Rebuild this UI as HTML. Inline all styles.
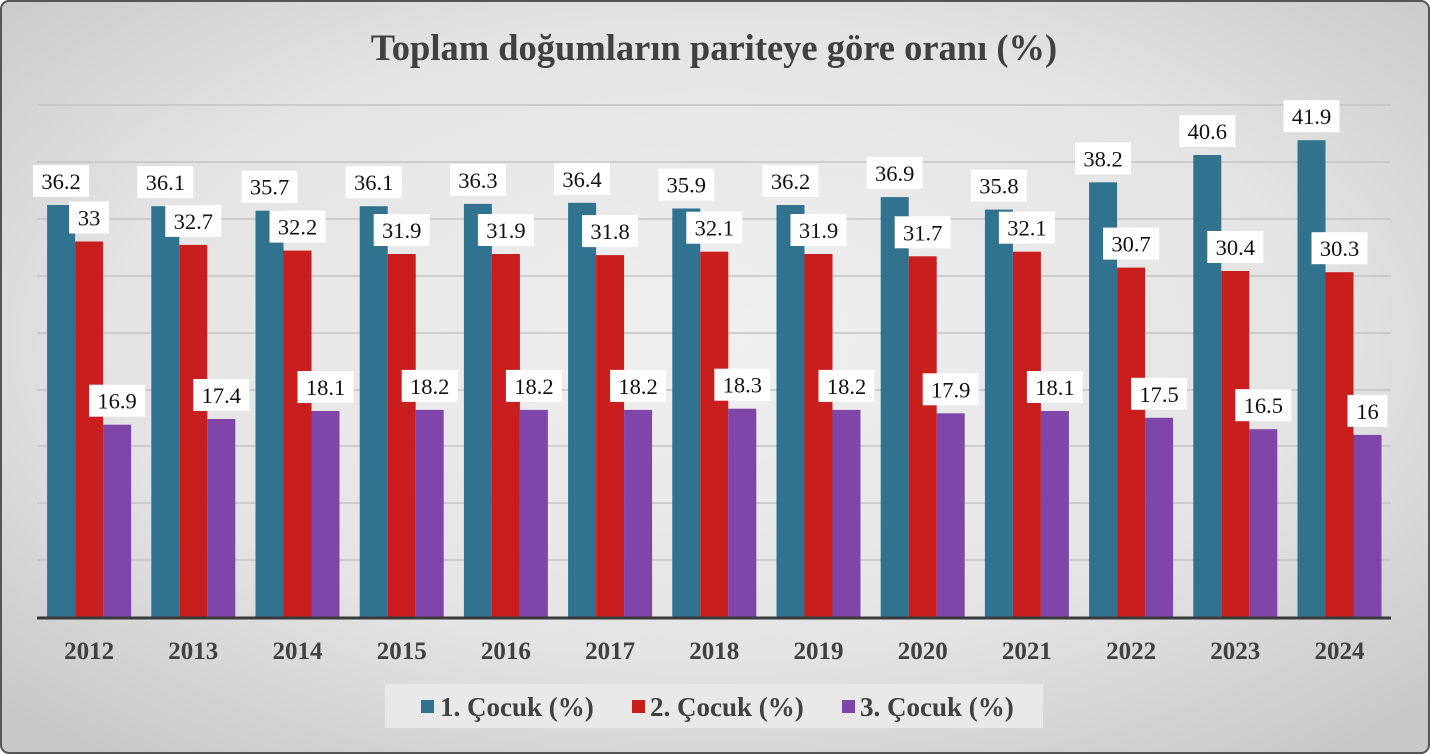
<!DOCTYPE html>
<html><head><meta charset="utf-8"><style>
html,body{margin:0;padding:0;width:1430px;height:754px;overflow:hidden;background:#fff}
svg{display:block}
.l rect{fill:#fff}
.l text{font-family:"Liberation Serif",serif;font-size:22.5px;fill:#111;text-anchor:middle}
.yr{font-family:"Liberation Serif",serif;font-weight:bold;font-size:25px;fill:#404040;text-anchor:middle}
</style></head><body>
<svg width="1430" height="754" viewBox="0 0 1430 754">
<defs>
<radialGradient id="bg" cx="50%" cy="45%" r="70%">
<stop offset="0" stop-color="#f0f0f0"/><stop offset="0.6" stop-color="#e4e4e4"/><stop offset="1" stop-color="#c8c8c8"/>
</radialGradient>
</defs>
<rect x="1" y="1" width="1428" height="752" rx="8" fill="url(#bg)" stroke="#555" stroke-width="2"/>
<text x="714" y="60" text-anchor="middle" font-family="Liberation Serif,serif" font-weight="bold" font-size="36.5" fill="#404040">Toplam doğumların pariteye göre oranı (%)</text>
<g stroke="#c4c4c4" stroke-width="1.5">
<line x1="37" x2="1391" y1="105" y2="105"/><line x1="37" x2="1391" y1="162" y2="162"/><line x1="37" x2="1391" y1="219" y2="219"/><line x1="37" x2="1391" y1="276" y2="276"/><line x1="37" x2="1391" y1="333" y2="333"/><line x1="37" x2="1391" y1="390" y2="390"/><line x1="37" x2="1391" y1="446" y2="446"/><line x1="37" x2="1391" y1="503" y2="503"/><line x1="37" x2="1391" y1="560" y2="560"/>
</g>

<g transform="translate(89.1,617)"><rect x="-42" y="-412" width="28" height="412" fill="#31728f"/><rect x="-14" y="-375.5" width="28" height="375.5" fill="#c81e1e"/><rect x="14" y="-192.3" width="28" height="192.3" fill="#7f45a8"/>
<g class="l"><rect x="-56" y="-452" width="56" height="32"/><text x="-28" y="-428">36.2</text><rect x="-20" y="-415.5" width="40" height="32"/><text x="0" y="-391.5">33</text><rect x="0" y="-232.3" width="56" height="32"/><text x="28" y="-208.3">16.9</text></g></g>

<g transform="translate(193.3,617)"><rect x="-42" y="-410.8" width="28" height="410.8" fill="#31728f"/><rect x="-14" y="-372.1" width="28" height="372.1" fill="#c81e1e"/><rect x="14" y="-198" width="28" height="198" fill="#7f45a8"/>
<g class="l"><rect x="-56" y="-450.8" width="56" height="32"/><text x="-28" y="-426.8">36.1</text><rect x="-28" y="-412.1" width="56" height="32"/><text x="0" y="-388.1">32.7</text><rect x="0" y="-238" width="56" height="32"/><text x="28" y="-214">17.4</text></g></g>

<g transform="translate(297.5,617)"><rect x="-42" y="-406.3" width="28" height="406.3" fill="#31728f"/><rect x="-14" y="-366.4" width="28" height="366.4" fill="#c81e1e"/><rect x="14" y="-206" width="28" height="206" fill="#7f45a8"/>
<g class="l"><rect x="-56" y="-446.3" width="56" height="32"/><text x="-28" y="-422.3">35.7</text><rect x="-28" y="-406.4" width="56" height="32"/><text x="0" y="-382.4">32.2</text><rect x="0" y="-246" width="56" height="32"/><text x="28" y="-222">18.1</text></g></g>

<g transform="translate(401.7,617)"><rect x="-42" y="-410.8" width="28" height="410.8" fill="#31728f"/><rect x="-14" y="-363" width="28" height="363" fill="#c81e1e"/><rect x="14" y="-207.1" width="28" height="207.1" fill="#7f45a8"/>
<g class="l"><rect x="-56" y="-450.8" width="56" height="32"/><text x="-28" y="-426.8">36.1</text><rect x="-28" y="-403" width="56" height="32"/><text x="0" y="-379">31.9</text><rect x="0" y="-247.1" width="56" height="32"/><text x="28" y="-223.1">18.2</text></g></g>

<g transform="translate(505.9,617)"><rect x="-42" y="-413.1" width="28" height="413.1" fill="#31728f"/><rect x="-14" y="-363" width="28" height="363" fill="#c81e1e"/><rect x="14" y="-207.1" width="28" height="207.1" fill="#7f45a8"/>
<g class="l"><rect x="-56" y="-453.1" width="56" height="32"/><text x="-28" y="-429.1">36.3</text><rect x="-28" y="-403" width="56" height="32"/><text x="0" y="-379">31.9</text><rect x="0" y="-247.1" width="56" height="32"/><text x="28" y="-223.1">18.2</text></g></g>

<g transform="translate(610.1,617)"><rect x="-42" y="-414.2" width="28" height="414.2" fill="#31728f"/><rect x="-14" y="-361.9" width="28" height="361.9" fill="#c81e1e"/><rect x="14" y="-207.1" width="28" height="207.1" fill="#7f45a8"/>
<g class="l"><rect x="-56" y="-454.2" width="56" height="32"/><text x="-28" y="-430.2">36.4</text><rect x="-28" y="-401.9" width="56" height="32"/><text x="0" y="-377.9">31.8</text><rect x="0" y="-247.1" width="56" height="32"/><text x="28" y="-223.1">18.2</text></g></g>

<g transform="translate(714.3,617)"><rect x="-42" y="-408.5" width="28" height="408.5" fill="#31728f"/><rect x="-14" y="-365.3" width="28" height="365.3" fill="#c81e1e"/><rect x="14" y="-208.3" width="28" height="208.3" fill="#7f45a8"/>
<g class="l"><rect x="-56" y="-448.5" width="56" height="32"/><text x="-28" y="-424.5">35.9</text><rect x="-28" y="-405.3" width="56" height="32"/><text x="0" y="-381.3">32.1</text><rect x="0" y="-248.3" width="56" height="32"/><text x="28" y="-224.3">18.3</text></g></g>

<g transform="translate(818.5,617)"><rect x="-42" y="-412" width="28" height="412" fill="#31728f"/><rect x="-14" y="-363" width="28" height="363" fill="#c81e1e"/><rect x="14" y="-207.1" width="28" height="207.1" fill="#7f45a8"/>
<g class="l"><rect x="-56" y="-452" width="56" height="32"/><text x="-28" y="-428">36.2</text><rect x="-28" y="-403" width="56" height="32"/><text x="0" y="-379">31.9</text><rect x="0" y="-247.1" width="56" height="32"/><text x="28" y="-223.1">18.2</text></g></g>

<g transform="translate(922.7,617)"><rect x="-42" y="-419.9" width="28" height="419.9" fill="#31728f"/><rect x="-14" y="-360.7" width="28" height="360.7" fill="#c81e1e"/><rect x="14" y="-203.7" width="28" height="203.7" fill="#7f45a8"/>
<g class="l"><rect x="-56" y="-459.9" width="56" height="32"/><text x="-28" y="-435.9">36.9</text><rect x="-28" y="-400.7" width="56" height="32"/><text x="0" y="-376.7">31.7</text><rect x="0" y="-243.7" width="56" height="32"/><text x="28" y="-219.7">17.9</text></g></g>

<g transform="translate(1026.9,617)"><rect x="-42" y="-407.4" width="28" height="407.4" fill="#31728f"/><rect x="-14" y="-365.3" width="28" height="365.3" fill="#c81e1e"/><rect x="14" y="-206" width="28" height="206" fill="#7f45a8"/>
<g class="l"><rect x="-56" y="-447.4" width="56" height="32"/><text x="-28" y="-423.4">35.8</text><rect x="-28" y="-405.3" width="56" height="32"/><text x="0" y="-381.3">32.1</text><rect x="0" y="-246" width="56" height="32"/><text x="28" y="-222">18.1</text></g></g>

<g transform="translate(1131.1,617)"><rect x="-42" y="-434.7" width="28" height="434.7" fill="#31728f"/><rect x="-14" y="-349.4" width="28" height="349.4" fill="#c81e1e"/><rect x="14" y="-199.2" width="28" height="199.2" fill="#7f45a8"/>
<g class="l"><rect x="-56" y="-474.7" width="56" height="32"/><text x="-28" y="-450.7">38.2</text><rect x="-28" y="-389.4" width="56" height="32"/><text x="0" y="-365.4">30.7</text><rect x="0" y="-239.2" width="56" height="32"/><text x="28" y="-215.2">17.5</text></g></g>

<g transform="translate(1235.3,617)"><rect x="-42" y="-462" width="28" height="462" fill="#31728f"/><rect x="-14" y="-346" width="28" height="346" fill="#c81e1e"/><rect x="14" y="-187.8" width="28" height="187.8" fill="#7f45a8"/>
<g class="l"><rect x="-56" y="-502" width="56" height="32"/><text x="-28" y="-478">40.6</text><rect x="-28" y="-386" width="56" height="32"/><text x="0" y="-362">30.4</text><rect x="0" y="-227.8" width="56" height="32"/><text x="28" y="-203.8">16.5</text></g></g>

<g transform="translate(1339.5,617)"><rect x="-42" y="-476.8" width="28" height="476.8" fill="#31728f"/><rect x="-14" y="-344.8" width="28" height="344.8" fill="#c81e1e"/><rect x="14" y="-182.1" width="28" height="182.1" fill="#7f45a8"/>
<g class="l"><rect x="-56" y="-516.8" width="56" height="32"/><text x="-28" y="-492.8">41.9</text><rect x="-28" y="-384.8" width="56" height="32"/><text x="0" y="-360.8">30.3</text><rect x="8" y="-222.1" width="40" height="32"/><text x="28" y="-198.1">16</text></g></g>

<line x1="37" x2="1391" y1="618" y2="618" stroke="#3a3a3a" stroke-width="3"/>

<g class="yr">
<text x="89.1" y="659">2012</text><text x="193.3" y="659">2013</text><text x="297.5" y="659">2014</text><text x="401.7" y="659">2015</text><text x="505.9" y="659">2016</text><text x="610.1" y="659">2017</text><text x="714.3" y="659">2018</text><text x="818.5" y="659">2019</text><text x="922.7" y="659">2020</text><text x="1026.9" y="659">2021</text><text x="1131.1" y="659">2022</text><text x="1235.3" y="659">2023</text><text x="1339.5" y="659">2024</text>
</g>

<rect x="385" y="684" width="658" height="44" fill="#e9e9e9"/>
<g font-family="Liberation Serif,serif" font-weight="bold" font-size="27" fill="#404040">
<rect x="421" y="700" width="13" height="13" fill="#31728f"/><text x="440" y="716">1. Çocuk (%)</text>
<rect x="632" y="700" width="13" height="13" fill="#c81e1e"/><text x="650" y="716">2. Çocuk (%)</text>
<rect x="842" y="700" width="13" height="13" fill="#7f45a8"/><text x="860" y="716">3. Çocuk (%)</text>
</g>
</svg>
</body></html>
